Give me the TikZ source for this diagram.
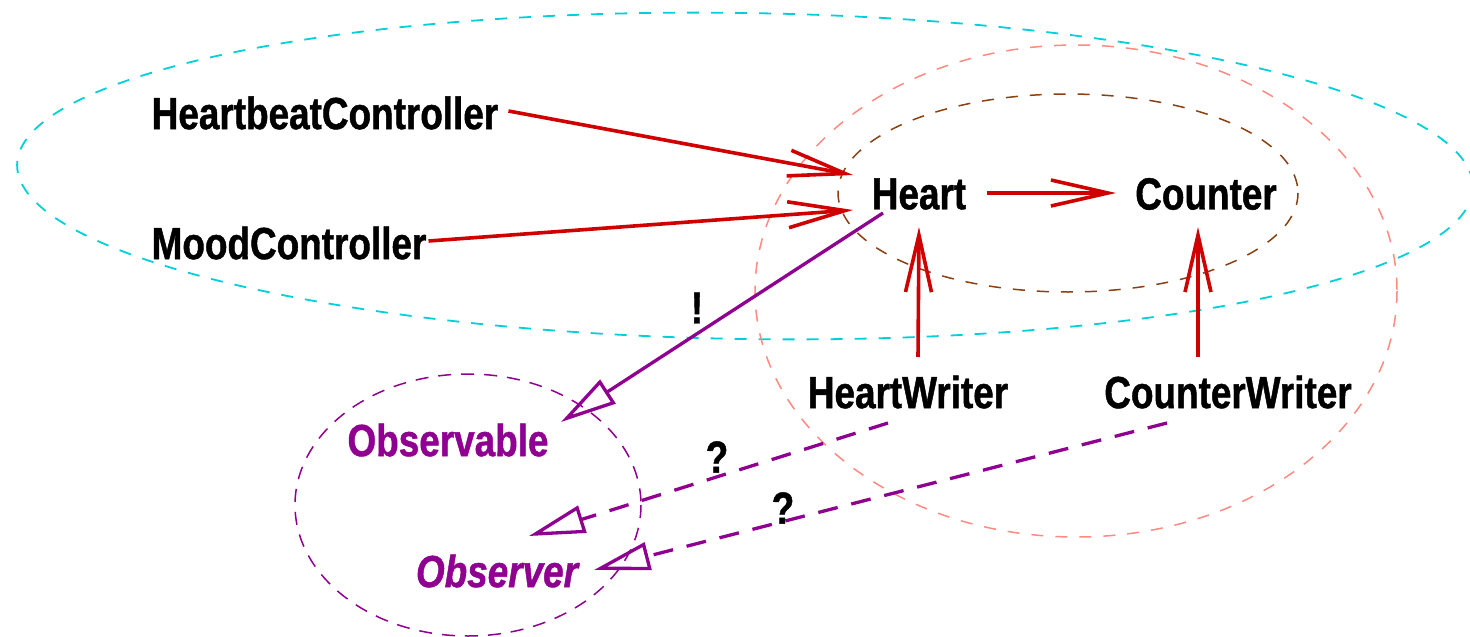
\documentclass[tikz,border=0pt]{standalone}
\usepackage{fontspec}
\newfontfamily\labfont{Liberation Sans}[FakeStretch=0.82, BoldFeatures={FakeBold=1}, BoldItalicFeatures={FakeBold=1}]
\usetikzlibrary{arrows.meta,calc}
\definecolor{cred}{HTML}{D00000}
\definecolor{cpurple}{HTML}{900090}
\definecolor{ccyan}{HTML}{00D0D8}
\definecolor{csalmon}{HTML}{FF8A80}
\definecolor{cbrown}{HTML}{8A4010}
\tikzset{
  lbl/.style={inner sep=0pt, font=\labfont\bfseries\fontsize{45}{54}\selectfont},
  plbl/.style={lbl, text=cpurple},
  pilbl/.style={inner sep=0pt, text=cpurple, font=\labfont\bfseries\itshape\fontsize{45}{54}\selectfont},
  redarrow/.style={draw=cred, line width=3.6pt, -{Straight Barb[length=57pt,width=26pt,sharp]}},
  purparrow/.style={draw=cpurple, line width=3.3pt, -{Triangle[open,length=56pt,width=28pt]}},
  purpdash/.style={purparrow, dash pattern=on 20pt off 14pt},
  ring/.style={line width=1.5pt, dash pattern=on 12pt off 12pt},
}
\begin{document}
\begin{tikzpicture}[x=1pt,y=-1pt]
\useasboundingbox (0,0) rectangle (1470,637);
% groups
\draw[ring, ccyan, line width=1.8pt, rotate around={-0.9:(745,176)}] (745,176) ellipse [x radius=728, y radius=163];
\draw[ring, csalmon] (1076,291) ellipse [x radius=321, y radius=246];
\draw[ring, cbrown] (1068,193) ellipse [x radius=230, y radius=99];
\draw[ring, cpurple, dash pattern=on 13pt off 10pt] (468,505) ellipse [x radius=173, y radius=131];
% nodes
\node[lbl] (hc) at (325,113) {HeartbeatController};
\node[lbl] (mc) at (289,243) {MoodController};
\node[lbl] (heart) at (919,194) {Heart};
\node[lbl] (counter) at (1206,194) {Counter};
\node[lbl] (hw) at (908,392) {HeartWriter};
\node[lbl] (cw) at (1228,392) {CounterWriter};
\node[plbl] (obsable) at (448,440) {Observable};
\node[pilbl] (obsver) at (497,571) {Observer};
% connectors
\draw[redarrow] ($(hc.east)+(10,-2)$) -- ($(heart.center)+(-66,-19)$);
\draw[redarrow] ($(mc.east)+(2,-2)$) -- ($(heart.center)+(-66,16)$);
\draw[redarrow] ($(heart.center)+(68,-1)$) -- ($(counter.center)+(-90,-1)$);
\draw[redarrow] ($(hw.center)+(10,-35)$) -- ($(heart.center)+(0,33)$);
\draw[redarrow] ($(cw.center)+(-30,-35)$) -- ($(counter.center)+(-8,33)$);
\draw[purparrow] ($(heart.center)+(-36,19)$) -- ($(obsable.center)+(113,-18)$);
\draw[purpdash] ($(hw.center)+(-20,31)$) -- ($(obsver.center)+(32,-35)$);
\draw[purpdash] ($(cw.center)+(-61,31)$) -- ($(obsver.center)+(97,-1)$);
\node[lbl] (bang) at (697,308) {!};
\node[lbl] (q1) at (717,457) {?};
\node[lbl] (q2) at (783,508) {?};
\end{tikzpicture}
\end{document}
